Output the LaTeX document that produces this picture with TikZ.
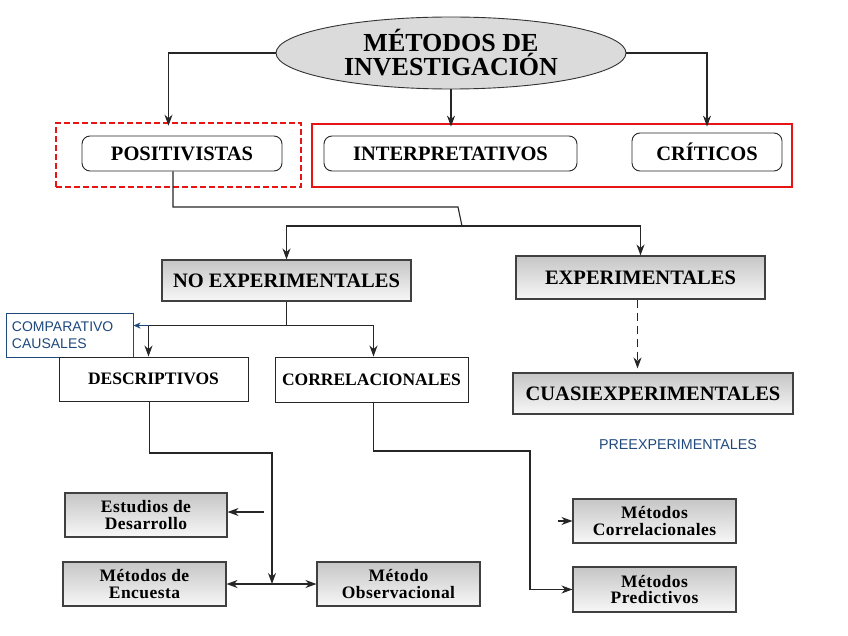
\documentclass[tikz,border=0pt]{standalone}
\usepackage{fontspec}
\setmainfont{Liberation Serif}
\newfontfamily\blsans{Liberation Sans}
\newfontfamily\spaced[LetterSpace=2.5]{Liberation Serif}
\usetikzlibrary{arrows.meta,shapes.geometric,calc}
\definecolor{bluetxt}{RGB}{31,73,125}
\definecolor{framered}{RGB}{230,20,20}
\tikzset{
  arr/.style={draw=black!85, line width=1.1pt, -{Stealth[length=11pt,width=8pt,inset=3.5pt]}},
  conn/.style={draw=black!85, line width=1.1pt},
  roundbox/.style={draw=black!85, line width=0.9pt, rounded corners=8pt, fill=white,
    font=\bfseries\fontsize{20.5}{22}\selectfont, inner sep=0pt},
  graybox/.style={draw=black!75, line width=1.1pt, top color=gray!45, bottom color=gray!6,
    inner sep=0pt, align=center},
  bigtxt/.style={font=\bfseries\fontsize{20.5}{22}\selectfont},
  smalltxt/.style={font=\spaced\bfseries\fontsize{17.5}{16.5}\selectfont},
  whitebox/.style={draw=black!85, line width=0.9pt, fill=white, inner sep=0pt,
    font=\bfseries\fontsize{17.5}{19}\selectfont},
}
\begin{document}
\begin{tikzpicture}[x=1pt,y=-1pt]
\useasboundingbox (0,0) rectangle (848,636);
% title
\node[ellipse, draw=black!80, line width=0.9pt, fill=gray!28, minimum width=350pt, minimum height=72pt,
  inner sep=0pt, align=center, font=\bfseries\fontsize{26}{24}\selectfont] (title) at (451,53)
  {MÉTODOS DE\\INVESTIGACIÓN};
% red frames
\node[draw=framered, line width=2.6pt, dash pattern=on 6pt off 3pt, minimum width=245pt, minimum height=64pt, inner sep=0pt] (posframe) at (178.5,155) {};
\node[draw=framered, line width=2.8pt, minimum width=480pt, minimum height=63pt, inner sep=0pt] (intframe) at (552,155.5) {};
% top boxes
\node[roundbox, minimum width=200pt, minimum height=35pt] (pos) at (182,153.5) {POSITIVISTAS};
\node[roundbox, minimum width=253pt, minimum height=35pt] (interp) at (450.5,153.5) {INTERPRETATIVOS};
\node[roundbox, minimum width=150pt, minimum height=38pt] (crit) at (707,152) {CRÍTICOS};
% second level
\node[graybox, bigtxt, minimum width=249pt, minimum height=41pt] (noexp) at (286.5,280.5) {NO EXPERIMENTALES};
\node[graybox, bigtxt, minimum width=249pt, minimum height=43pt] (exp) at (640.5,277.5) {EXPERIMENTALES};
\node[draw=bluetxt, line width=1pt, fill=white, minimum width=127pt, minimum height=44pt, inner sep=0pt,
  text width=115pt, align=left, text=bluetxt, font=\blsans\fontsize{14}{17}\selectfont] (comp) at (69.5,335)
  {COMPARATIVO\\CAUSALES};
\node[whitebox, minimum width=189pt, minimum height=44pt] (desc) at (153.5,379) {DESCRIPTIVOS};
\node[whitebox, minimum width=193pt, minimum height=45pt] (correl) at (371.5,379.5) {CORRELACIONALES};
\node[graybox, bigtxt, minimum width=280pt, minimum height=41pt] (cuasi) at (653,393.5) {CUASIEXPERIMENTALES};
\node[text=bluetxt, font=\blsans\fontsize{14.3}{16}\selectfont, inner sep=0pt] (pre) at (678,445) {PREEXPERIMENTALES};
% bottom boxes
\node[graybox, smalltxt, minimum width=162pt, minimum height=44pt] (estud) at (146,515) {Estudios de\\Desarrollo};
\node[graybox, smalltxt, minimum width=163pt, minimum height=44pt] (encu) at (144.5,584) {Métodos de\\Encuesta};
\node[graybox, smalltxt, minimum width=163pt, minimum height=44pt] (obs) at (398.5,584) {Método\\Observacional};
\node[graybox, smalltxt, minimum width=163pt, minimum height=44pt] (mcorr) at (654.5,521) {Métodos\\Correlacionales};
\node[graybox, smalltxt, minimum width=163pt, minimum height=45pt] (mpred) at (654.5,589.5) {Métodos\\Predictivos};
% coordinates
\coordinate (bend) at (458,207);
\coordinate (split) at (462,226);
\coordinate (nb) at ($(noexp.south)+(0,24)$);
\coordinate (dj) at (272,453);
\coordinate (dmid) at (272,584);
\coordinate (esfree) at (264,512);
\coordinate (cj) at (530,451);
% connectors from title
\draw[arr, shorten >=-4pt] (title.west) -| ([xshift=-10pt]posframe.north);
\draw[arr, shorten >=-4pt] (title.south) -- (title.south |- intframe.north);
\draw[arr, shorten >=-4pt] (title.east) -| (crit.north |- intframe.north);
% positivistas down
\draw[conn] ([xshift=-9pt]pos.south) |- (bend) -- (split);
\draw[arr] (split) -| (noexp.north);
\draw[arr] (split) -| (exp.north);
% no experimentales
\draw[conn] (noexp.south) -- (nb);
\draw[arr] (nb) -| ([xshift=-5pt]desc.north);
\draw[arr] (nb) -| ([xshift=2pt]correl.north);
\draw[draw=bluetxt, line width=1.1pt, -{Stealth[length=7pt,width=6pt,inset=2pt]}] ([xshift=-5pt]desc.north |- nb) -- (comp.east |- nb);
% experimentales dashed
\draw[arr, dash pattern=on 8pt off 5pt, shorten >=4pt] ([xshift=-3pt]exp.south) -- ([xshift=-3pt]exp.south |- cuasi.north);
% descriptivos
\draw[arr] ([xshift=-4pt]desc.south) |- (dj) -- (dmid);
\draw[arr] (dmid) -- (encu.east);
\draw[arr] (dmid) -- (obs.west);
\draw[arr] (esfree) -- (estud.east |- esfree);
% correlacionales
\draw[arr] ([xshift=2pt]correl.south) |- (cj) |- (mpred.west);
\draw[arr] ([xshift=-14pt]mcorr.west) -- (mcorr.west);
\end{tikzpicture}
\end{document}
